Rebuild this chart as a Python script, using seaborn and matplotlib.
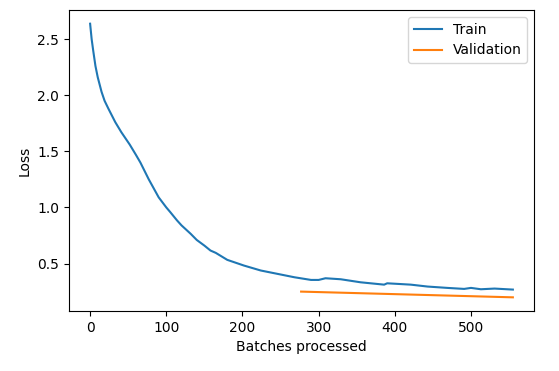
import matplotlib
matplotlib.use("Agg")
import matplotlib.pyplot as plt
import seaborn as sns

# train loss (batch index, loss)
train_batches = [0, 2, 4, 7, 10, 15, 19, 24, 33, 41, 52, 60, 66, 77, 90, 100,
                 105, 114, 120, 132, 140, 150, 158, 165, 180, 202, 224, 246,
                 268, 290, 300, 309, 329, 355, 386, 390, 421, 443, 469, 491,
                 500, 513, 531, 555]
train_loss = [2.637, 2.50, 2.40, 2.26, 2.16, 2.03, 1.95, 1.88, 1.76, 1.67, 1.56,
              1.47, 1.40, 1.25, 1.09, 1.00, 0.96, 0.885, 0.84, 0.765, 0.71,
              0.66, 0.616, 0.595, 0.533, 0.482, 0.438, 0.408, 0.378, 0.354,
              0.354, 0.369, 0.36, 0.333, 0.312, 0.324, 0.312, 0.295, 0.283,
              0.274, 0.283, 0.271, 0.277, 0.268]

# validation loss at the end of each epoch
valid_batches = [277, 555]
valid_loss = [0.25, 0.199]

fig = plt.figure(figsize=(5.59, 3.71), dpi=100)
ax = fig.add_axes([0.1234, 0.1617, 0.8319, 0.8113])

sns.lineplot(x=train_batches, y=train_loss, label="Train", ax=ax, color="#1f77b4")
sns.lineplot(x=valid_batches, y=valid_loss, label="Validation", ax=ax, color="#ff7f0e")

ax.set_xlabel("Batches processed")
ax.set_ylabel("Loss")
ax.legend(loc="upper right")

fig.savefig("out.png", dpi=100)
